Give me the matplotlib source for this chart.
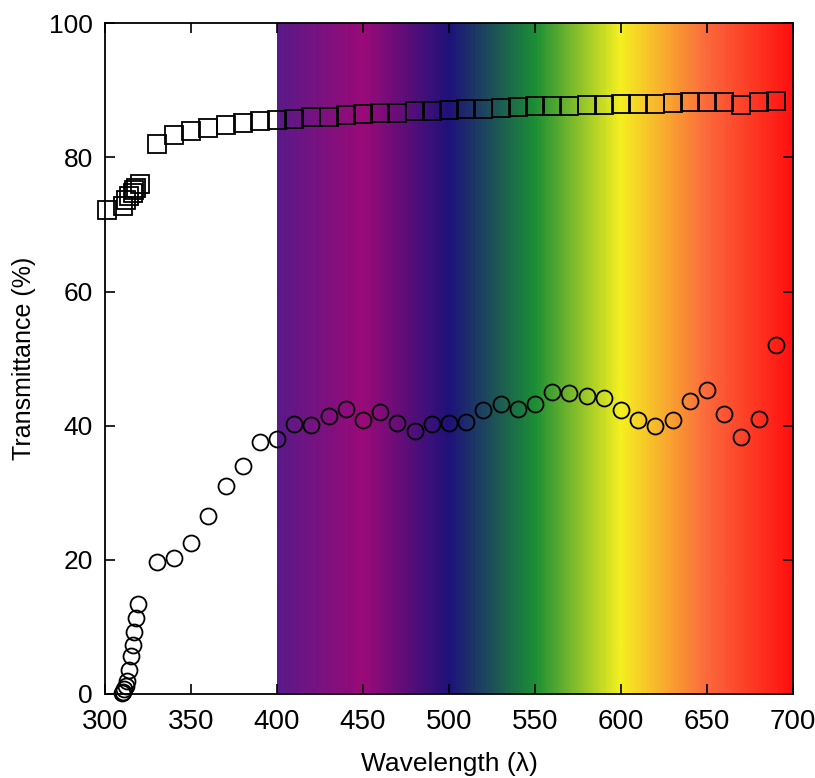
import matplotlib
matplotlib.use('Agg')
import matplotlib.pyplot as plt
import numpy as np
from matplotlib.colors import LinearSegmentedColormap

plt.rcParams['font.family'] = ['Liberation Sans', 'DejaVu Sans']

# transmittance data, squares (upper curve)
sq_x = [301, 310.5, 312, 314, 316, 317, 318, 320,
        330, 340, 350, 360, 370, 380, 390, 400, 410, 420, 430, 440,
        450, 460, 470, 480, 490, 500, 510, 520, 530, 540, 550, 560,
        570, 580, 590, 600, 610, 620, 630, 640, 650, 660, 670, 680, 690]
sq_y = [72.1, 72.8, 73.7, 74.2, 74.7, 75.1, 75.5, 76.0,
        82.0, 83.4, 84.0, 84.4, 84.8, 85.1, 85.4, 85.6, 85.8, 86.0, 86.1, 86.3,
        86.5, 86.6, 86.7, 86.9, 87.0, 87.1, 87.2, 87.3, 87.4, 87.5, 87.6, 87.6,
        87.7, 87.8, 87.8, 87.9, 88.0, 88.0, 88.1, 88.2, 88.3, 88.2, 87.8, 88.2, 88.4]

# circles (lower curve)
ci_x = [310, 310.5, 311, 312, 313, 314, 315, 316, 317, 318, 319,
        330, 340, 350, 360, 370, 380, 390, 400, 410, 420, 430, 440,
        450, 460, 470, 480, 490, 500, 510, 520, 530, 540, 550, 560,
        570, 580, 590, 600, 610, 620, 630, 640, 650, 660, 670, 680, 690]
ci_y = [0.1, 0.3, 0.7, 1.2, 2.0, 3.6, 5.6, 7.3, 9.3, 11.4, 13.4,
        19.7, 20.3, 22.5, 26.5, 31.0, 34.0, 37.5, 38.0, 40.3, 40.1, 41.5, 42.5,
        40.8, 42.0, 40.4, 39.2, 40.3, 40.4, 40.6, 42.4, 43.3, 42.5, 43.3, 45.0,
        44.9, 44.4, 44.2, 42.4, 40.8, 39.9, 40.8, 43.7, 45.4, 41.7, 38.3, 41.0, 52.0]

# visible spectrum colour stops
spec_nm = [400, 450, 500, 550, 600, 650, 700]
spec_col = ['#5a1a88', '#9a0a78', '#1e127a', '#1b8f35', '#f5f020', '#fb6a3c', '#ff1010']

fig = plt.figure(figsize=(8.15, 7.78), dpi=100)
ax = fig.add_axes([0.129, 0.108, 0.844, 0.862])

pos = [(n - 400) / 300 for n in spec_nm]
cmap = LinearSegmentedColormap.from_list('spec', list(zip(pos, spec_col)))
grad = np.linspace(0, 1, 600).reshape(1, -1)
ax.imshow(grad, cmap=cmap, extent=[400, 700, 0, 100], aspect='auto', zorder=0)

ax.plot(sq_x, sq_y, 's', ms=13, mfc='none', mec='black', mew=1.3, zorder=3, clip_on=False)
ax.plot(ci_x, ci_y, 'o', ms=11.5, mfc='none', mec='black', mew=1.3, zorder=3, clip_on=False)

ax.set_xlim(300, 700)
ax.set_ylim(0, 100)
ax.set_xticks(range(300, 701, 50))
ax.set_yticks(range(0, 101, 20))
ax.tick_params(direction='in', top=True, right=True, length=7, width=1.2, labelsize=19)
ax.tick_params(axis='x', pad=11)
ax.tick_params(axis='y', pad=9)
for s in ax.spines.values():
    s.set_linewidth(1.3)
for lab in ax.get_xticklabels():
    lab.set_fontsize(20)

ax.set_xlabel('Wavelength (λ)', fontsize=19, labelpad=12)
ax.set_ylabel('Transmittance (%)', fontsize=18, labelpad=9)

fig.savefig('out.png', dpi=100)
